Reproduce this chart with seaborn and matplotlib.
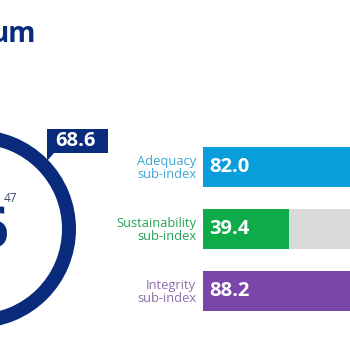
import matplotlib
matplotlib.use("Agg")
import matplotlib.pyplot as plt
import seaborn as sns
import pandas as pd
from matplotlib.patches import Wedge, Polygon

# data
categories = ["Adequacy\nsub-index", "Sustainability\nsub-index", "Integrity\nsub-index"]
sub_values = [82.0, 39.4, 88.2]
overall_value = 68.6
rank_total = 47
rank_digit = "6"
title_tail = "um"

navy = "#0a2b7c"
bar_colors = ["#0a9ddb", "#0fab4b", "#7b46a9"]
label_colors = ["#3aa6d0", "#22a356", "#8c6ea9"]
track_color = "#d9d9d9"

sns.set_theme(style="white")
plt.rcParams["font.family"] = ["Open Sans", "DejaVu Sans"]

W = H = 350
fig = plt.figure(figsize=(3.5, 3.5), dpi=100)
fig.patch.set_facecolor("white")

# overlay axes in pixel coordinates for ring / badge / title
bg = fig.add_axes([0, 0, 1, 1])
bg.set_xlim(0, W)
bg.set_ylim(H, 0)
bg.axis("off")

cx, cy, r_out, ring_w = -23, 229, 99, 14
bg.add_patch(Wedge((cx, cy), r_out, 0, 360, width=ring_w, facecolor=navy, edgecolor="none"))

badge = Polygon([(47, 129), (108, 129), (108, 153), (54, 153), (47, 161)],
                closed=True, facecolor=navy, edgecolor="none")
bg.add_patch(badge)
bg.text(75, 141.5, f"{overall_value:.1f}", color="white", fontsize=14.5,
        fontweight="bold", ha="center", va="center")

bg.text(36, 42, title_tail, color=navy, fontsize=20, fontweight="bold",
        ha="right", va="baseline")
bg.text(10, 199, str(rank_total), color="#3b4a6b", fontsize=8.5, ha="center", va="center")
bg.text(9, 233, rank_digit, color=navy, fontsize=40, fontweight="bold",
        ha="right", va="center")

# sub-index bars
df = pd.DataFrame({"category": categories, "value": sub_values})
ax = fig.add_axes([203 / W, 1 - 322 / H, 218 / W, 186 / H])
sns.barplot(data=df, x=[100] * len(categories), y="category", color=track_color,
            width=0.66, saturation=1, ax=ax, orient="h")
sns.barplot(data=df, x="value", y="category", hue="category", palette=bar_colors,
            width=0.66, saturation=1, ax=ax, orient="h", legend=False)
for bar in ax.patches:
    bar.set_edgecolor("none")
ax.set_xlim(0, 100)
ax.set_ylim(2.5, -0.5)
ax.set_xlabel("")
ax.set_ylabel("")
ax.set_xticks([])
sns.despine(ax=ax, left=True, bottom=True)
ax.tick_params(axis="y", length=0, pad=5)
for lbl, col in zip(ax.get_yticklabels(), label_colors):
    lbl.set_color(col)
    lbl.set_fontsize(9.3)
    lbl.set_linespacing(1.0)
for i, v in enumerate(sub_values):
    ax.text(2.7, i, f"{v:.1f}", color="white", fontsize=14.5, fontweight="bold",
            ha="left", va="center")

fig.savefig("out.png", dpi=100, facecolor="white")
